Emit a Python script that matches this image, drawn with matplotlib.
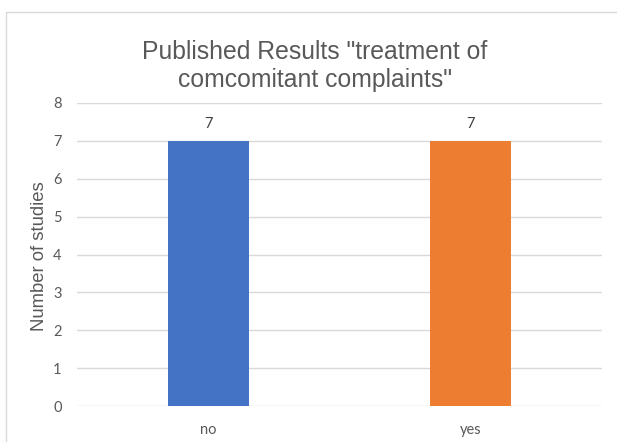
import matplotlib.pyplot as plt
from matplotlib.patches import Rectangle

categories = ["no", "yes"]
values = [7, 7]
colors = ["#4472C4", "#ED7D31"]
title = 'Published Results "treatment of\ncomcomitant complaints"'
ylabel = "Number of studies"
yticks = list(range(0, 9))

W, H = 617, 442
fig = plt.figure(figsize=(W / 100, H / 100), dpi=100)

# chart frame
fig.patches.append(Rectangle((6 / W, -0.1), 1.2, 1 - 12 / H + 0.1,
                             transform=fig.transFigure, fill=False,
                             edgecolor="#D9D9D9", linewidth=1.0))

left, right = 77 / W, 602 / W
bottom, top = 1 - 406 / H, 1 - 103 / H
ax = fig.add_axes([left, bottom, right - left, top - bottom])

x = range(len(categories))
bars = ax.bar(x, values, width=0.31, color=colors, zorder=3)
ax.set_xlim(-0.5, len(categories) - 0.5)
ax.set_ylim(0, 8)
ax.set_yticks(yticks)
ax.set_xticks(list(x))
ax.set_xticklabels(categories)

for s in ax.spines.values():
    s.set_visible(False)
ax.yaxis.grid(True, color="#D9D9D9", linewidth=1.0, zorder=0)
ax.tick_params(axis="both", length=0, labelsize=10.5, labelcolor="#595959")
ax.tick_params(axis="y", pad=11)
ax.tick_params(axis="x", pad=12)
for lab in ax.get_xticklabels() + ax.get_yticklabels():
    lab.set_fontfamily("Lato")

for b, v in zip(bars, values):
    ax.text(b.get_x() + b.get_width() / 2, v + 0.27, f"{v}",
            ha="center", va="bottom", fontsize=10.5, color="#404040",
            family="Lato")

fig.text(315 / W, 1 - 66 / H, title, ha="center", va="center",
         fontsize=17.8, color="#595959", family="Liberation Sans",
         linespacing=1.25)
fig.text(40 / W, 1 - 256 / H, ylabel, rotation=90, ha="center",
         va="center", fontsize=13.3, color="#595959",
         family="Liberation Sans")

fig.savefig("out.png", dpi=100)
